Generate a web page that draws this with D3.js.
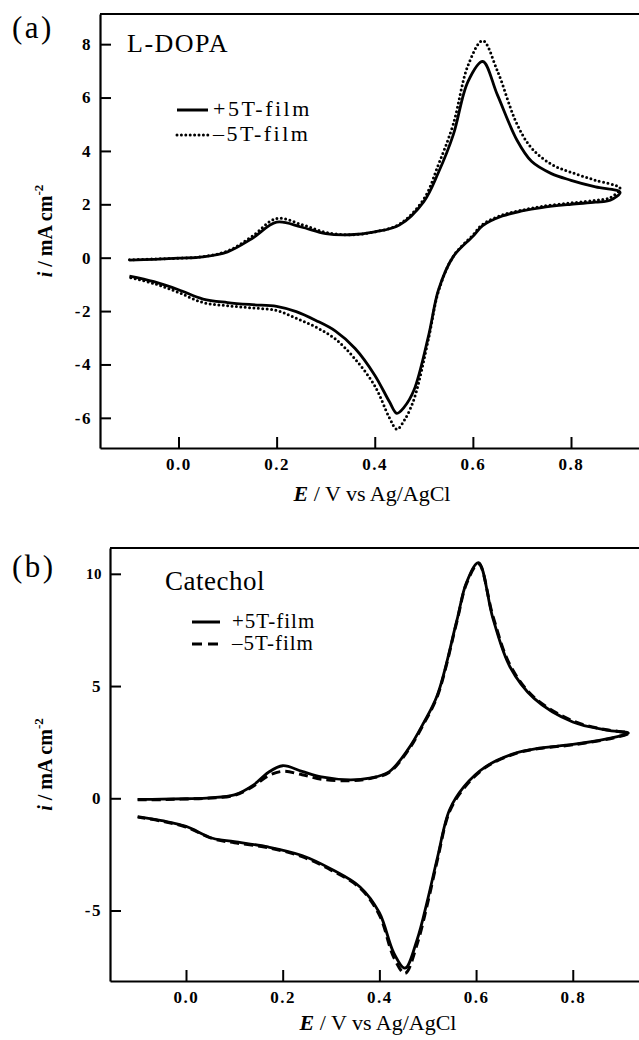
<!DOCTYPE html>
<html>
<head>
<meta charset="utf-8">
<script src="https://cdn.jsdelivr.net/npm/d3@7"></script>
<style>
    body { margin: 0; background: #fff; }
    svg { display: block; font-family: 'Liberation Serif', 'Times New Roman', serif; }
</style>
</head>
<body>
<svg id="chart" width="639" height="1040"></svg>
<script>
'use strict';

// (a) L-DOPA : forward scan, then reverse scan
var aFwdE = [ -0.1, -0.05, 0.0, 0.05, 0.1, 0.15, 0.2, 0.25, 0.3, 0.35, 0.4, 0.45, 0.5, 0.53, 0.56, 0.59, 0.62, 0.65, 0.69, 0.72, 0.76, 0.8, 0.85, 0.9 ];
var aFwdPlus = [ -0.09, -0.06, -0.02, 0.03, 0.22, 0.72, 1.33, 1.15, 0.9, 0.86, 0.97, 1.22, 2.1, 3.2, 4.6, 6.6, 7.35, 6.1, 4.4, 3.6, 3.15, 2.9, 2.65, 2.45 ];
var aFwdMinus = [ -0.08, -0.05, -0.02, 0.04, 0.25, 0.8, 1.47, 1.25, 0.95, 0.86, 0.97, 1.25, 2.2, 3.5, 5.0, 7.2, 8.13, 7.0, 5.0, 4.1, 3.5, 3.2, 2.9, 2.6 ];
var aRevE = [ 0.88, 0.85, 0.8, 0.74, 0.7, 0.66, 0.62, 0.6, 0.56, 0.53, 0.51, 0.48, 0.46, 0.445, 0.43, 0.4, 0.36, 0.32, 0.28, 0.24, 0.2, 0.15, 0.1, 0.05, 0.0, -0.05, -0.1 ];
var aRevPlus = [ 2.15, 2.08, 2.0, 1.88, 1.75, 1.56, 1.2, 0.8, 0.04, -1.2, -2.9, -4.96, -5.6, -5.83, -5.4, -4.4, -3.4, -2.75, -2.35, -2.02, -1.82, -1.76, -1.68, -1.55, -1.2, -0.9, -0.69 ];
var aRevMinus = [ 2.25, 2.15, 2.05, 1.92, 1.78, 1.6, 1.25, 0.85, 0.05, -1.25, -3.0, -5.3, -6.1, -6.43, -6.0, -4.8, -3.8, -3.05, -2.6, -2.27, -1.98, -1.88, -1.8, -1.68, -1.3, -0.97, -0.74 ];
var aXTicks = [ 0.0, 0.2, 0.4, 0.6, 0.8 ];
var aYTicks = [ -6, -4, -2, 0, 2, 4, 6, 8 ];

// (b) Catechol
var bFwdE = [ -0.1, -0.05, 0.0, 0.05, 0.1, 0.14, 0.17, 0.2, 0.24, 0.28, 0.34, 0.38, 0.42, 0.46, 0.49, 0.52, 0.56, 0.58, 0.605, 0.635, 0.67, 0.72, 0.8, 0.87, 0.915 ];
var bFwdPlus = [ -0.05, -0.04, -0.02, 0.02, 0.15, 0.6, 1.15, 1.45, 1.2, 0.95, 0.82, 0.9, 1.18, 2.2, 3.3, 4.6, 7.9, 9.6, 10.5, 8.0, 5.86, 4.45, 3.4, 3.04, 2.9 ];
var bFwdMinus = [ -0.07, -0.06, -0.03, 0.01, 0.13, 0.55, 1.0, 1.2, 1.05, 0.85, 0.78, 0.88, 1.15, 2.15, 3.25, 4.55, 7.85, 9.55, 10.45, 8.1, 5.95, 4.5, 3.45, 3.05, 2.9 ];
var bRevE = [ 0.89, 0.8, 0.73, 0.68, 0.62, 0.575, 0.545, 0.52, 0.5, 0.478, 0.453, 0.43, 0.4, 0.36, 0.3, 0.24, 0.17, 0.1, 0.055, 0.0, -0.05, -0.1 ];
var bRevPlus = [ 2.74, 2.4, 2.23, 2.0, 1.41, 0.52, -0.52, -2.65, -4.5, -6.3, -7.57, -6.9, -5.1, -3.95, -3.15, -2.55, -2.17, -1.93, -1.78, -1.25, -1.0, -0.82 ];
var bRevMinus = [ 2.72, 2.38, 2.22, 1.98, 1.38, 0.45, -0.6, -2.75, -4.65, -6.5, -7.8, -7.1, -5.2, -4.0, -3.2, -2.6, -2.2, -1.98, -1.8, -1.28, -1.02, -0.84 ];
var bXTicks = [ 0.0, 0.2, 0.4, 0.6, 0.8 ];
var bYTicks = [ -5, 0, 5, 10 ];

var seriesNames = [ '+5T-film', '\u20135T-film' ];

var svg = d3.select( '#chart' );

function cycle( fwdE, fwdI, revE, revI ){
    var pts = fwdE.map(function( e, k ){ return [ e, fwdI[k] ]; });
    return pts.concat( revE.map(function( e, k ){ return [ e, revI[k] ]; }) );
}

function drawPanel( p ){
    var g = svg.append( 'g' ),
        x = d3.scaleLinear().domain( p.xDomain ).range( [ p.left, p.right ] ),
        y = d3.scaleLinear().domain( p.yDomain ).range( [ p.bottom, p.top ] ),
        line = d3.line()
            .x(function( d ){ return x( d[0] ); })
            .y(function( d ){ return y( d[1] ); })
            .curve( d3.curveCatmullRom.alpha( 0.5 ) ),
        xAxis, yAxis, legend, ylab, xlab;

    xAxis = g.append( 'g' )
        .attr( 'transform', 'translate(0,' + p.bottom + ')' )
        .call( d3.axisBottom( x )
            .tickValues( p.xTicks )
            .tickFormat( d3.format( '.1f' ) )
            .tickSizeInner( -11 )
            .tickSizeOuter( 0 )
            .tickPadding( 10 ) );

    yAxis = g.append( 'g' )
        .attr( 'transform', 'translate(' + p.left + ',0)' )
        .call( d3.axisLeft( y )
            .tickValues( p.yTicks )
            .tickFormat(function( d ){ return String( d ); })
            .tickSizeInner( -11 )
            .tickSizeOuter( 0 )
            .tickPadding( p.yPad ) );

    [ xAxis, yAxis ].forEach(function( a ){
        a.attr( 'font-family', null ).attr( 'font-size', null );
        a.select( '.domain' ).attr( 'stroke', '#000' ).attr( 'stroke-width', 2.2 );
        a.selectAll( '.tick line' ).attr( 'stroke', '#000' ).attr( 'stroke-width', 2 );
        a.selectAll( '.tick text' )
            .attr( 'fill', '#000' )
            .attr( 'font-size', 17 )
            .attr( 'font-weight', 'bold' )
            .attr( 'letter-spacing', 1.5 );
    });
    yAxis.selectAll( '.tick text' )
        .filter(function( d ){ return d >= 10; })
        .attr( 'font-size', 15 )
        .attr( 'letter-spacing', 0.5 );

    // top frame line
    g.append( 'line' )
        .attr( 'x1', p.left ).attr( 'x2', p.right )
        .attr( 'y1', p.top ).attr( 'y2', p.top )
        .attr( 'stroke', '#000' ).attr( 'stroke-width', 2.2 );

    // curves: second film first, so the solid line sits on top
    g.append( 'path' )
        .datum( cycle( p.fwdE, p.fwdMinus, p.revE, p.revMinus ) )
        .attr( 'd', line )
        .attr( 'fill', 'none' )
        .attr( 'stroke', '#000' )
        .attr( 'stroke-width', 3 )
        .attr( 'stroke-linecap', p.dash === 'dot' ? 'round' : 'butt' )
        .attr( 'stroke-dasharray', p.dash === 'dot' ? '0 4.4' : '9 5' );

    g.append( 'path' )
        .datum( cycle( p.fwdE, p.fwdPlus, p.revE, p.revPlus ) )
        .attr( 'd', line )
        .attr( 'fill', 'none' )
        .attr( 'stroke', '#000' )
        .attr( 'stroke-width', 2.8 );

    // panel letter and compound
    g.append( 'text' )
        .attr( 'x', 12 ).attr( 'y', p.letterY )
        .attr( 'font-size', 31 )
        .attr( 'letter-spacing', 2.5 )
        .text( p.letter );

    g.append( 'text' )
        .attr( 'x', p.titleX ).attr( 'y', p.titleY )
        .attr( 'font-size', p.titleSize )
        .attr( 'letter-spacing', p.titleSpacing )
        .text( p.title );

    // legend
    legend = g.append( 'g' );
    seriesNames.forEach(function( name, k ){
        var ly = p.legY + k * p.legStep;
        legend.append( 'line' )
            .attr( 'x1', p.legX1 ).attr( 'x2', p.legX2 )
            .attr( 'y1', ly ).attr( 'y2', ly )
            .attr( 'stroke', '#000' )
            .attr( 'stroke-width', 3 )
            .attr( 'stroke-linecap', k && p.dash === 'dot' ? 'round' : 'butt' )
            .attr( 'stroke-dasharray', k ? ( p.dash === 'dot' ? '0 4.4' : '10 6' ) : null );
        legend.append( 'text' )
            .attr( 'x', p.legTextX ).attr( 'y', ly + p.legBase )
            .attr( 'font-size', p.legSize )
            .attr( 'letter-spacing', p.legSpacing )
            .text( name );
    });

    // axis titles
    ylab = g.append( 'text' )
        .attr( 'transform', 'translate(52,' + ( ( p.top + p.bottom ) / 2 ) + ') rotate(-90)' )
        .attr( 'text-anchor', 'middle' )
        .attr( 'font-size', 20 )
        .attr( 'font-weight', 'bold' );
    ylab.append( 'tspan' ).attr( 'font-style', 'italic' ).text( 'i' );
    ylab.append( 'tspan' ).text( ' / mA cm' );
    ylab.append( 'tspan' ).attr( 'font-size', 13 ).attr( 'dy', -9 ).text( '-2' );

    xlab = g.append( 'text' )
        .attr( 'x', p.xlabX ).attr( 'y', p.xlabY )
        .attr( 'text-anchor', 'middle' )
        .attr( 'font-size', 22 );
    xlab.append( 'tspan' ).attr( 'font-style', 'italic' ).attr( 'font-weight', 'bold' ).text( 'E' );
    xlab.append( 'tspan' ).text( ' / V vs Ag/AgCl' );
}

drawPanel({
    left: 100, right: 639, top: 14, bottom: 448,
    xDomain: [ -0.16, 0.9386 ], yDomain: [ -7.13, 9.13 ],
    xTicks: aXTicks, yTicks: aYTicks, yPad: 8,
    fwdE: aFwdE, fwdPlus: aFwdPlus, fwdMinus: aFwdMinus,
    revE: aRevE, revPlus: aRevPlus, revMinus: aRevMinus,
    dash: 'dot',
    letter: '(a)', letterY: 38,
    title: 'L-DOPA', titleX: 127, titleY: 52, titleSize: 26, titleSpacing: 1.5,
    legX1: 177, legX2: 208, legTextX: 213, legY: 110, legStep: 25, legBase: 6, legSize: 22, legSpacing: 2.5,
    xlabX: 372, xlabY: 501
});

drawPanel({
    left: 110, right: 639, top: 548, bottom: 981,
    xDomain: [ -0.1572, 0.937 ], yDomain: [ -8.14, 11.15 ],
    xTicks: bXTicks, yTicks: bYTicks, yPad: 8,
    fwdE: bFwdE, fwdPlus: bFwdPlus, fwdMinus: bFwdMinus,
    revE: bRevE, revPlus: bRevPlus, revMinus: bRevMinus,
    dash: 'dash',
    letter: '(b)', letterY: 577,
    title: 'Catechol', titleX: 165, titleY: 590, titleSize: 27, titleSpacing: 0.5,
    legX1: 192, legX2: 220, legTextX: 232, legY: 622, legStep: 22, legBase: 6, legSize: 21, legSpacing: 1,
    xlabX: 378, xlabY: 1030
});
</script>
</body>
</html>
